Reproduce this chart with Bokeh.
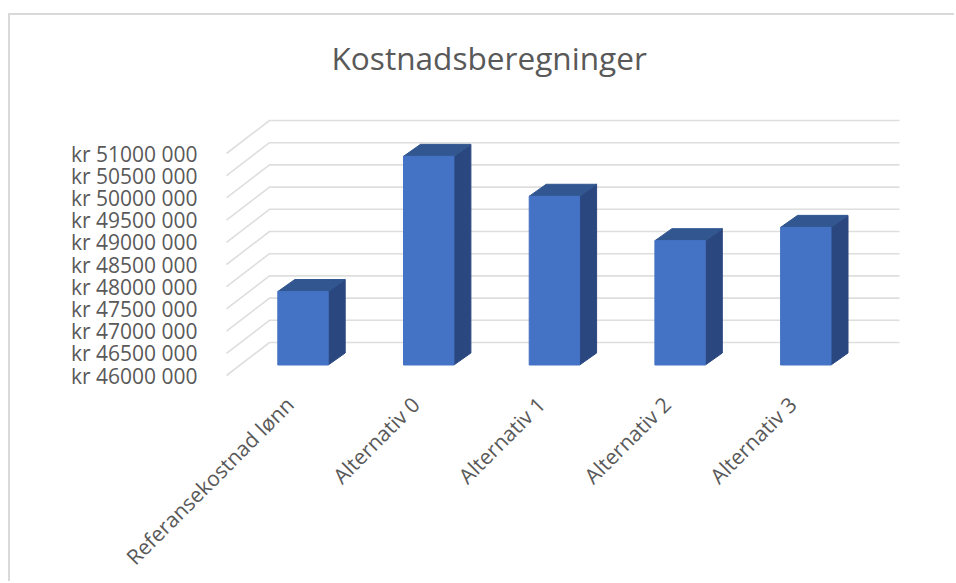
import math
from bokeh.plotting import figure
from bokeh.models import FixedTicker, Range1d
from bokeh.embed import file_html
from bokeh.resources import INLINE

categories = ["Referansekostnad lønn", "Alternativ 0", "Alternativ 1", "Alternativ 2", "Alternativ 3"]
values = [47655000, 50700000, 49800000, 48800000, 49100000]
tick_values = [46000000 + 500000 * i for i in range(11)]
tick_labels = ["kr 46000 000", "kr 46500 000", "kr 47000 000", "kr 47500 000", "kr 48000 000", "kr 48500 000",
               "kr 49000 000", "kr 49500 000", "kr 50000 000", "kr 50500 000", "kr 51000 000"]

OX, OY = 10, 15      # where the figure's canvas starts in the page
W, H = 956 - OX, 583 - OY
PX_PER_CAT = 125.7
PX_PER_VAL = 22.2 / 500000
FONT = "Open Sans"
TEXT = "#595959"
GRID = "#dedede"
FRONT = "#4472C4"
TOP = "#32568F"
SIDE = "#2A4780"

frame_left, frame_right = 205, 956
frame_top, frame_bottom = 92, 382
center0_px, y0_px = 302.5, 375
xr = Range1d((frame_left - center0_px) / PX_PER_CAT, (frame_right - center0_px) / PX_PER_CAT)
yr = Range1d(46000000 - (frame_bottom - y0_px) / PX_PER_VAL, 46000000 + (y0_px - frame_top) / PX_PER_VAL)

p = figure(width=W, height=H, x_range=xr, y_range=yr, output_backend="svg", toolbar_location=None,
           min_border_left=frame_left - OX, min_border_right=0,
           min_border_top=frame_top - OY, min_border_bottom=583 - frame_bottom,
           outline_line_color=None, title="Kostnadsberegninger")
p.margin = (OY - 2, 0, 0, OX - 2)
p.styles = {"border-top": "2px solid #d9d9d9", "border-left": "2px solid #d9d9d9"}
p.title.text_font = FONT
p.title.text_font_size = "31.6px"
p.title.text_font_style = "normal"
p.title.text_color = TEXT
p.title.align = "left"
p.title.offset = 126
p.title.standoff = 27
p.grid.visible = False

# Wall offsets: depth of the chart floor and of the bars
wall_dx, wall_dy = 43 / PX_PER_CAT, 33 / PX_PER_VAL
plane_dy = 10.5 / PX_PER_VAL
bar_dx, bar_dy = 17 / PX_PER_CAT, 12 / PX_PER_VAL
half = 25.2 / PX_PER_CAT
left_x = (226 - center0_px) / PX_PER_CAT
right_x = (899 - center0_px) / PX_PER_CAT

# Gridlines: side wall then back wall, one per tick
for t in tick_values:
    p.line([left_x, left_x + wall_dx, right_x], [t, t + wall_dy, t + wall_dy], line_color=GRID, line_width=1.6)

base = tick_values[0] + plane_dy
for i, v in enumerate(values):
    top = base + v - tick_values[0]
    l, r = i - half, i + half
    p.patch([r, r + bar_dx, r + bar_dx, r], [base, base + bar_dy, top + bar_dy, top], fill_color=SIDE, line_color=SIDE)
    p.patch([l, r, r + bar_dx, l + bar_dx], [top, top, top + bar_dy, top + bar_dy], fill_color=TOP, line_color=TOP)
    p.patch([l, r, r, l], [base, base, top, top], fill_color=FRONT, line_color=FRONT)

p.yaxis.ticker = FixedTicker(ticks=tick_values)
p.yaxis.major_label_overrides = dict(zip(tick_values, tick_labels))
p.yaxis.axis_line_color = None
p.yaxis.major_tick_line_color = None
p.yaxis.minor_tick_line_color = None
p.yaxis.major_label_text_font = FONT
p.yaxis.major_label_text_font_size = "21px"
p.yaxis.major_label_text_color = TEXT
p.yaxis.major_label_standoff = 2

tick_x = [i - 0.105 for i in range(len(categories))]
p.xaxis.ticker = FixedTicker(ticks=tick_x)
p.xaxis.major_label_overrides = dict(zip(tick_x, categories))
p.xaxis.major_label_orientation = math.pi / 4
p.xaxis.axis_line_color = None
p.xaxis.major_tick_line_color = None
p.xaxis.minor_tick_line_color = None
p.xaxis.major_label_text_font = FONT
p.xaxis.major_label_text_font_size = "21px"
p.xaxis.major_label_text_color = TEXT
p.xaxis.major_label_standoff = 12

open("out.html", "w").write(file_html(p, INLINE))
